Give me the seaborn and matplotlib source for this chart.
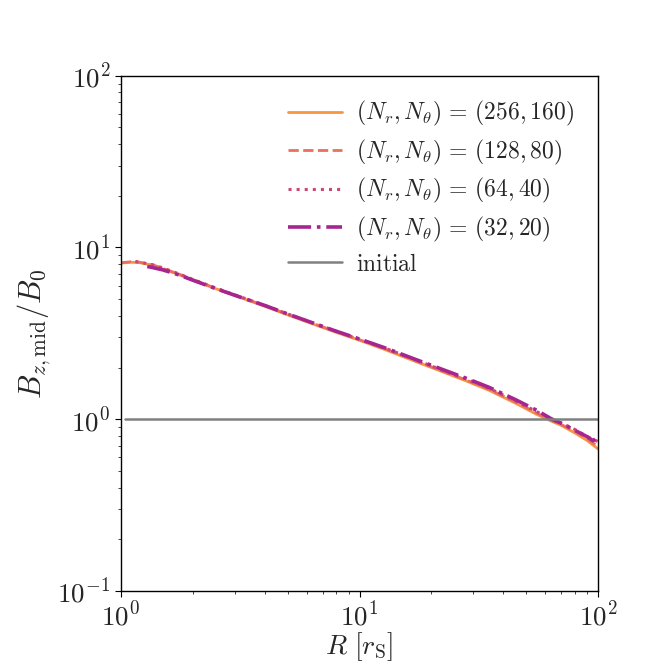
import matplotlib
matplotlib.use("Agg")
import matplotlib.pyplot as plt
import seaborn as sns

# Radius grid (in r_S) and midplane B_z / B_0
r_256 = [1.0, 1.1, 1.2, 1.35, 1.5, 1.75, 2.0, 2.5, 3.0, 4.0, 5.0, 6.5, 8.0, 10.0,
         13.0, 17.0, 22.0, 28.0, 35.0, 45.0, 55.0, 62.0, 70.0, 80.0, 90.0, 100.0]
b_256 = [8.1, 8.2, 8.15, 7.9, 7.5, 6.95, 6.45, 5.75, 5.25, 4.55, 4.05, 3.55, 3.2, 2.88,
         2.52, 2.18, 1.90, 1.67, 1.47, 1.24, 1.07, 0.99, 0.92, 0.83, 0.75, 0.67]

r_128 = [1.0, 1.1, 1.2, 1.35, 1.5, 1.75, 2.0, 2.5, 3.0, 4.0, 5.0, 6.5, 8.0, 10.0,
         13.0, 17.0, 22.0, 28.0, 35.0, 45.0, 55.0, 62.0, 70.0, 80.0, 90.0, 100.0]
b_128 = [8.15, 8.25, 8.2, 7.95, 7.55, 7.0, 6.5, 5.78, 5.28, 4.58, 4.08, 3.58, 3.23, 2.9,
         2.55, 2.2, 1.92, 1.69, 1.49, 1.26, 1.09, 1.0, 0.93, 0.85, 0.77, 0.69]

r_64 = [1.15, 1.2, 1.35, 1.5, 1.75, 2.0, 2.5, 3.0, 4.0, 5.0, 6.5, 8.0, 10.0,
        13.0, 17.0, 22.0, 28.0, 35.0, 45.0, 55.0, 62.0, 70.0, 80.0, 90.0, 100.0]
b_64 = [8.3, 8.2, 7.95, 7.6, 7.02, 6.52, 5.8, 5.3, 4.6, 4.1, 3.6, 3.25, 2.92,
        2.57, 2.23, 1.94, 1.71, 1.51, 1.28, 1.11, 1.02, 0.95, 0.87, 0.79, 0.74]

r_32 = [1.29, 1.35, 1.5, 1.75, 2.0, 2.5, 3.0, 4.0, 5.0, 6.5, 8.0, 10.0,
        13.0, 17.0, 22.0, 28.0, 35.0, 45.0, 55.0, 64.0, 72.0, 80.0, 90.0, 95.0, 100.0]
b_32 = [7.75, 7.65, 7.4, 6.92, 6.45, 5.76, 5.27, 4.6, 4.1, 3.6, 3.25, 2.93,
        2.58, 2.24, 1.96, 1.73, 1.53, 1.30, 1.13, 1.0, 0.93, 0.86, 0.79, 0.75, 0.79]

r_init = [1.04, 100.0]
b_init = [1.0, 1.0]

series = [
    (r_256, b_256, "#f89540", "-", 2.0, r"$(N_r, N_\theta) \,=\, (256, 160)$"),
    (r_128, b_128, "#e8705c", "--", 2.0, r"$(N_r, N_\theta) \,=\, (128, 80)$"),
    (r_64, b_64, "#cc4778", ":", 2.2, r"$(N_r, N_\theta) \,=\, (64, 40)$"),
    (r_32, b_32, "#a62591", "-.", 2.6, r"$(N_r, N_\theta) \,=\, (32, 20)$"),
]

sns.set_style("ticks")
plt.rcParams["font.family"] = ["serif"]
plt.rcParams["font.serif"] = ["cmr10"]
plt.rcParams["mathtext.fontset"] = "cm"
plt.rcParams["axes.formatter.use_mathtext"] = True

fig = plt.figure(figsize=(6.64, 6.64), dpi=100)
ax = fig.add_axes([0.182, 0.110, 0.719, 0.776])

for r, b, col, ls, lw, lab in series:
    sns.lineplot(x=r, y=b, ax=ax, color=col, linestyle=ls, linewidth=lw, label=lab)
sns.lineplot(x=r_init, y=b_init, ax=ax, color="gray", linewidth=1.8, label=r"$\mathrm{initial}$")

ax.set_xscale("log")
ax.set_yscale("log")
ax.set_xlim(1, 100)
ax.set_ylim(0.1, 100)
ax.set_xlabel(r"$R\ [r_{\rm S}]$", fontsize=20, labelpad=-1)
ax.set_ylabel(r"$B_{z,{\rm mid}}/B_0$", fontsize=22, labelpad=3)
ax.tick_params(axis="both", which="major", labelsize=19.5, length=4, width=0.8, color="black")
ax.tick_params(axis="both", which="minor", length=2.5, width=0.6)
for s in ax.spines.values():
    s.set_linewidth(1.0)
    s.set_color("black")

ax.legend(loc="upper right", frameon=False, fontsize=17, handlelength=2.3,
          borderaxespad=0.6, labelspacing=0.4, handletextpad=0.6)

fig.savefig("out.png", dpi=100)
